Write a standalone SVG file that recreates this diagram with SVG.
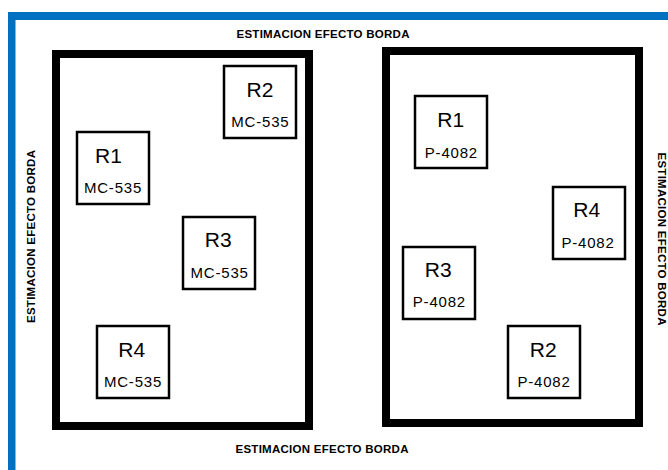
<svg xmlns="http://www.w3.org/2000/svg" width="668" height="470" viewBox="0 0 668 470">
<style>
.field{fill:none;stroke:#000;stroke-width:8}
.box{fill:#fff;stroke:#000;stroke-width:2.5}
.r{font-family:"Liberation Sans",Arial,sans-serif;font-size:21px;fill:#000;text-anchor:middle}
.s{font-family:"Liberation Sans",Arial,sans-serif;font-size:15px;fill:#000;text-anchor:middle;letter-spacing:0.8px}
.t{font-family:"Liberation Sans",Arial,sans-serif;font-size:11.5px;font-weight:bold;fill:#000;text-anchor:middle}
</style>
<rect width="668" height="470" fill="#fff"/>
<g id="frame">
<rect x="8" y="12" width="660" height="8" fill="#0070C0"/>
<rect x="8" y="12" width="7.5" height="458" fill="#0070C0"/>
</g>
<g id="labels">
<text class="t" x="323" y="38.3" textLength="173" lengthAdjust="spacing">ESTIMACION EFECTO BORDA</text>
<text class="t" x="322" y="453.3" textLength="173" lengthAdjust="spacing">ESTIMACION EFECTO BORDA</text>
<text class="t" transform="translate(35,236.5) rotate(-90)" textLength="173" lengthAdjust="spacing">ESTIMACION EFECTO BORDA</text>
<text class="t" transform="translate(657.5,239) rotate(90)" textLength="173" lengthAdjust="spacing">ESTIMACION EFECTO BORDA</text>
</g>
<g id="field-left"><rect class="field" x="56" y="54" width="253" height="372"/></g>
<g id="field-right"><rect class="field" x="386" y="51" width="253" height="372"/></g>
<g id="L-R2"><rect class="box" x="224" y="66" width="72" height="72"/><text class="r" x="260" y="96.7">R2</text><text class="s" x="260.4" y="127">MC-535</text></g>
<g id="L-R1"><rect class="box" x="77" y="132" width="72" height="72"/><text class="r" x="108.5" y="163">R1</text><text class="s" x="113" y="193">MC-535</text></g>
<g id="L-R3"><rect class="box" x="183" y="217" width="72" height="72"/><text class="r" x="218.3" y="246.7">R3</text><text class="s" x="219.6" y="278">MC-535</text></g>
<g id="L-R4"><rect class="box" x="97" y="326" width="72" height="72"/><text class="r" x="131.7" y="356.7">R4</text><text class="s" x="133" y="386.7">MC-535</text></g>
<g id="R-R1"><rect class="box" x="415" y="96" width="72" height="72"/><text class="r" x="450.7" y="127.3">R1</text><text class="s" x="451.4" y="158.3">P-4082</text></g>
<g id="R-R4"><rect class="box" x="553" y="187" width="72" height="72"/><text class="r" x="586.7" y="216.7">R4</text><text class="s" x="588" y="248.3">P-4082</text></g>
<g id="R-R3"><rect class="box" x="403" y="247" width="72" height="72"/><text class="r" x="438.3" y="276.7">R3</text><text class="s" x="439.4" y="307.3">P-4082</text></g>
<g id="R-R2"><rect class="box" x="508" y="326" width="72" height="72"/><text class="r" x="543.3" y="356.7">R2</text><text class="s" x="544" y="386.7">P-4082</text></g>
<g id="connectors"></g>
</svg>
